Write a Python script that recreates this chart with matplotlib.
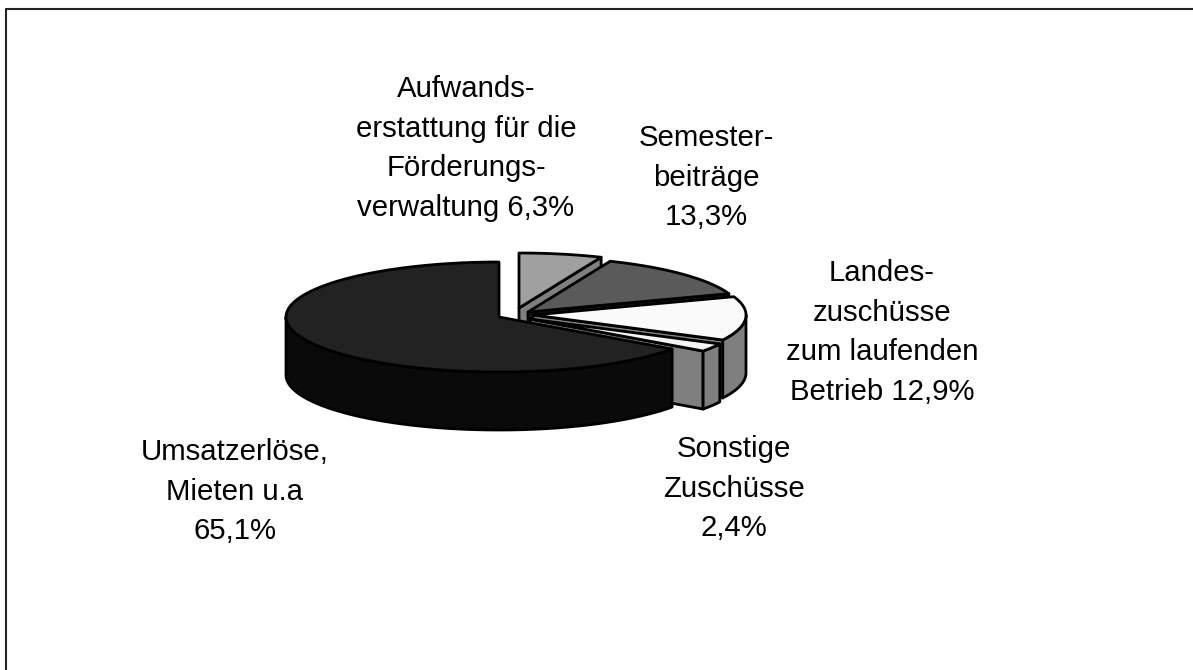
import numpy as np
import matplotlib
matplotlib.use('Agg')
import matplotlib.pyplot as plt
from matplotlib.patches import Polygon

plt.rcParams['font.family'] = ['Liberation Sans', 'DejaVu Sans']

# shares in percent, clockwise from 12 o'clock
names = ['Aufwands-\nerstattung für die\nFörderungs-\nverwaltung 6,3%',
         'Semester-\nbeiträge\n13,3%',
         'Landes-\nzuschüsse\nzum laufenden\nBetrieb 12,9%',
         'Sonstige\nZuschüsse\n2,4%',
         'Umsatzerlöse,\nMieten u.a\n65,1%']
shares = [6.3, 13.3, 12.9, 2.4, 65.1]

top_colors = ['#a0a0a0', '#5a5a5a', '#fafafa', '#f4f4f4', '#222222']
side_colors = ['#7f7f7f', '#1c1c1c', '#7f7f7f', '#7f7f7f', '#0a0a0a']

# layout, in pixels
cx, cy = 499, 317
rx, ry = 213, 55
depth = 58
shift_x = [20, 29, 34, 31, 0]
shift_y = [-9, -5, -2, 2, 0]
label_x = [466, 706, 882, 734, 235]
label_y = [97, 146, 281, 457, 460]
line_h = 39.7

fig = plt.figure(figsize=(11.93, 6.7), dpi=100)
ax = fig.add_axes([0, 0, 1, 1])
ax.set_xlim(0, 1193)
ax.set_ylim(670, 0)
ax.axis('off')

# chart frame, only top and left are inside the picture
ax.plot([6, 6, 1193], [670, 9, 9], color='#222222', lw=1.5)


def arc(x0, y0, a, b):
    t = np.radians(np.linspace(a, b, 120))
    return np.column_stack([x0 + rx * np.sin(t), y0 - ry * np.cos(t)])


def face(pts, color, z):
    ax.add_patch(Polygon(pts, closed=True, facecolor=color, edgecolor='black',
                         lw=2, joinstyle='round', zorder=z))


start = 0
for i in range(len(shares)):
    end = start + shares[i] * 3.6
    x0 = cx + shift_x[i]
    y0 = cy + shift_y[i]
    z = 2 + i * 3
    drop = np.array([0, depth])
    apex = np.array([[x0, y0]])

    # cut face at the trailing edge, only when it looks towards us
    if end < 180:
        tip = arc(x0, y0, end, end)[:1]
        face(np.vstack([apex, tip, tip + drop, apex + drop]), side_colors[i], z)

    # outer rim, front half only
    a = max(start, 90)
    b = min(end, 270)
    if b > a:
        rim = arc(x0, y0, a, b)
        face(np.vstack([rim, rim[::-1] + drop]), side_colors[i], z + 1)

    face(np.vstack([apex, arc(x0, y0, start, end)]), top_colors[i], z + 2)
    start = end

for i in range(len(names)):
    for k, line in enumerate(names[i].split('\n')):
        ax.text(label_x[i], label_y[i] + k * line_h, line, ha='center', va='baseline',
                fontsize=21.2, color='black', zorder=30)

fig.savefig('out.png', dpi=100)
